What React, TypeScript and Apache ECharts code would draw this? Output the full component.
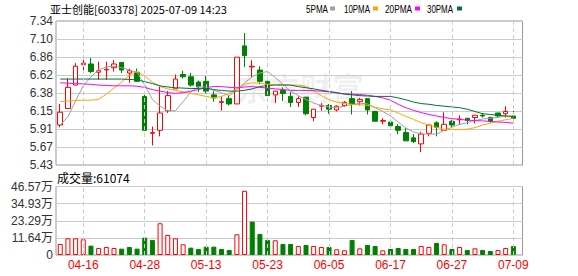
import React, { useEffect, useRef } from 'react';
import * as echarts from 'echarts';

const titleText = '亚士创能[603378] 2025-07-09 14:23';
const volumeTitle = '成交量:61074';
const legendNames = ['5PMA', '10PMA', '20PMA', '30PMA'];
const legendColors = ['#a0a0a0', '#ffa500', '#ff00ff', '#00703c'];

const dates = [
  '04-11', '04-14', '04-15', '04-16', '04-17', '04-18', '04-21', '04-22', '04-23', '04-24',
  '04-25', '04-28', '04-29', '04-30', '05-06', '05-07', '05-08', '05-09', '05-12', '05-13',
  '05-14', '05-15', '05-16', '05-19', '05-20', '05-21', '05-22', '05-23', '05-26', '05-27',
  '05-28', '05-29', '05-30', '06-03', '06-04', '06-05', '06-06', '06-09', '06-10', '06-11',
  '06-12', '06-13', '06-16', '06-17', '06-18', '06-19', '06-20', '06-23', '06-24', '06-25',
  '06-26', '06-27', '06-30', '07-01', '07-02', '07-03', '07-04', '07-07', '07-08', '07-09',
];
const labelDates = ['04-16', '04-28', '05-13', '05-23', '06-05', '06-17', '06-27', '07-09'];

const opens = [
  5.96, 6.18, 6.49, 6.76, 6.77, 6.66, 6.69, 6.72, 6.79, 6.65,
  6.66, 6.34, 5.85, 5.89, 6.15, 6.44, 6.63, 6.60, 6.53, 6.54,
  6.36, 6.26, 6.31, 6.24, 7.01, 6.73, 6.69, 6.54, 6.36, 6.42,
  6.34, 6.26, 6.33, 6.06, 6.21, 6.22, 6.16, 6.22, 6.31, 6.27,
  6.31, 6.14, 6.01, 6.00, 5.94, 5.86, 5.79, 5.71, 5.85, 5.99,
  5.89, 6.01, 6.03, 6.05, 6.06, 6.09, 6.06, 6.12, 6.11, 6.08,
];
const closes = [
  6.13, 6.46, 6.74, 6.78, 6.67, 6.68, 6.70, 6.77, 6.69, 6.68,
  6.54, 5.89, 5.86, 6.12, 6.35, 6.57, 6.60, 6.49, 6.47, 6.41,
  6.32, 6.27, 6.24, 6.86, 6.88, 6.74, 6.54, 6.35, 6.41, 6.38,
  6.26, 6.31, 6.11, 6.17, 6.22, 6.17, 6.21, 6.26, 6.24, 6.30,
  6.16, 6.01, 6.02, 5.95, 5.89, 5.75, 5.74, 5.84, 5.96, 5.93,
  5.97, 5.96, 6.04, 6.02, 6.09, 6.08, 6.01, 6.08, 6.14, 6.05,
];
const lows = [
  5.93, 6.18, 6.49, 6.67, 6.65, 6.56, 6.56, 6.67, 6.65, 6.52,
  6.53, 5.89, 5.69, 5.81, 6.12, 6.44, 6.58, 6.47, 6.40, 6.38,
  6.27, 6.15, 6.22, 6.24, 6.73, 6.59, 6.50, 6.35, 6.25, 6.28,
  6.20, 6.20, 6.09, 6.01, 6.15, 6.11, 6.14, 6.20, 6.10, 6.22,
  6.10, 6.01, 5.97, 5.91, 5.84, 5.75, 5.72, 5.60, 5.81, 5.81,
  5.89, 5.93, 5.96, 5.97, 5.98, 6.06, 5.99, 6.07, 6.06, 6.03,
];
const highs = [
  6.24, 6.58, 6.78, 6.88, 6.85, 6.80, 6.80, 6.82, 6.79, 6.71,
  6.71, 6.41, 5.94, 6.47, 6.41, 6.63, 6.68, 6.65, 6.55, 6.61,
  6.41, 6.34, 6.36, 6.86, 7.18, 6.82, 6.74, 6.56, 6.41, 6.46,
  6.40, 6.34, 6.33, 6.17, 6.25, 6.24, 6.22, 6.28, 6.41, 6.32,
  6.31, 6.15, 6.05, 6.04, 5.97, 5.92, 5.84, 5.87, 5.97, 6.01,
  6.13, 6.03, 6.09, 6.05, 6.09, 6.12, 6.07, 6.12, 6.21, 6.15,
];
const volumes = [
  75000, 113600, 113600, 106800, 63600, 47700, 54500, 47700, 43200, 54500,
  43200, 118100, 102200, 215800, 136300, 113600, 72700, 50000, 40900, 56800,
  56800, 40900, 34100, 140800, 436200, 227200, 143100, 102200, 100000, 75000,
  75000, 61300, 68200, 61300, 54500, 54500, 38600, 31800, 102200, 45400,
  68200, 61300, 31800, 40900, 47700, 40900, 40900, 61300, 54500, 81800,
  72700, 40900, 54500, 34100, 45400, 34100, 27300, 34100, 47700, 61074,
];
const ma5 = [
  5.96, 6.07, 6.28, 6.48, 6.60, 6.69, 6.73, 6.74, 6.72, 6.69,
  6.66, 6.49, 6.30, 6.21, 6.15, 6.15, 6.27, 6.40, 6.47, 6.46,
  6.42, 6.39, 6.35, 6.43, 6.52, 6.60, 6.65, 6.67, 6.59, 6.50,
  6.41, 6.35, 6.30, 6.25, 6.22, 6.20, 6.19, 6.21, 6.23, 6.25,
  6.24, 6.19, 6.14, 6.08, 6.00, 5.92, 5.87, 5.84, 5.84, 5.84,
  5.89, 5.93, 5.97, 5.99, 6.02, 6.04, 6.05, 6.06, 6.08, 6.07,
];
const ma10 = [
  6.27, 6.28, 6.285, 6.29, 6.29, 6.30, 6.37, 6.45, 6.53, 6.62,
  6.67, 6.61, 6.53, 6.47, 6.44, 6.42, 6.40, 6.38, 6.36, 6.34,
  6.32, 6.34, 6.38, 6.44, 6.50, 6.52, 6.515, 6.50, 6.50, 6.495,
  6.49, 6.49, 6.475, 6.41, 6.35, 6.295, 6.265, 6.25, 6.235, 6.23,
  6.22, 6.195, 6.175, 6.16, 6.12, 6.075, 6.035, 5.99, 5.96, 5.93,
  5.905, 5.90, 5.90, 5.905, 5.925, 5.96, 5.985, 6.01, 6.03, 6.05,
];
const ma20 = [
  6.52, 6.515, 6.51, 6.505, 6.50, 6.49, 6.485, 6.48, 6.48, 6.48,
  6.475, 6.46, 6.43, 6.41, 6.39, 6.38, 6.39, 6.41, 6.43, 6.46,
  6.47, 6.47, 6.46, 6.455, 6.465, 6.47, 6.46, 6.45, 6.44, 6.43,
  6.42, 6.42, 6.42, 6.415, 6.41, 6.40, 6.385, 6.375, 6.37, 6.365,
  6.355, 6.34, 6.32, 6.29, 6.235, 6.19, 6.155, 6.125, 6.10, 6.08,
  6.06, 6.045, 6.035, 6.025, 6.02, 6.015, 6.008, 6.00, 5.995, 5.985,
];
const ma30 = [
  6.57, 6.57, 6.57, 6.57, 6.57, 6.57, 6.57, 6.57, 6.57, 6.565,
  6.56, 6.535, 6.51, 6.48, 6.465, 6.455, 6.45, 6.445, 6.445, 6.45,
  6.43, 6.42, 6.41, 6.41, 6.42, 6.44, 6.47, 6.485, 6.49, 6.49,
  6.49, 6.47, 6.455, 6.44, 6.42, 6.405, 6.39, 6.37, 6.36, 6.35,
  6.345, 6.34, 6.34, 6.34, 6.32, 6.295, 6.265, 6.245, 6.235, 6.22,
  6.21, 6.20, 6.19, 6.17, 6.14, 6.11, 6.10, 6.09, 6.08, 6.075,
];
const priceTicks = ['5.43', '5.67', '5.91', '6.15', '6.38', '6.62', '6.86', '7.10', '7.34'];
const volumeTicks = ['0', '11.64万', '23.29万', '34.93万', '46.57万'];
const priceMin = 5.43;
const priceMax = 7.34;
const volumeMax = 465700;

const RED = '#ff0000';
const GREEN = '#008000';
const GRID_LINE = '#cccccc';
const FRAME = '#999999';

export default function App() {
  const ref = useRef<HTMLDivElement>(null);

  useEffect(() => {
    document.body.style.margin = '0';
    if (!ref.current) return;
    const chart = echarts.init(ref.current, null, { renderer: 'svg' });

    const frameLeft = 56;
    const frameWidth = 466.5;
    const dataLeft = 56.4;
    const dataWidth = 460.8;
    const priceTop = 21;
    const priceHeight = 144;
    const volTop = 186.5;
    const volHeight = 68.5;

    const candleData = dates.map((_, i) => [opens[i], closes[i], lows[i], highs[i]]);
    const volumeData = volumes.map((v, i) => {
      const up = i === 0 ? true : closes[i] >= closes[i - 1];
      return {
        value: v,
        itemStyle: up
          ? { color: '#ffffff', borderColor: RED, borderWidth: 1 }
          : { color: GREEN, borderColor: GREEN, borderWidth: 1 },
      };
    });
    const labelIdx = labelDates.map((d) => dates.indexOf(d));

    const dashed = {
      color: GRID_LINE,
      type: [4, 3] as any,
      width: 1,
    };

    const maSeries = [ma5, ma10, ma20, ma30].map((arr, k) => ({
      name: legendNames[k],
      type: 'line',
      xAxisIndex: 1,
      yAxisIndex: 1,
      data: arr,
      symbol: 'none',
      silent: true,
      z: 4,
      lineStyle: { color: legendColors[k], width: 1 },
    }));

    const legendTextStarts = [306, 344, 385, 427];
    const legendTextWidths = [22, 26, 27, 26];
    const legendSquareX = [330, 373, 415, 457];
    const legendGraphics: any[] = [];
    legendNames.forEach((name, k) => {
      // approximate natural width of Liberation Sans 11px text
      const natural = name.length === 4 ? 29.9 : 36.0;
      legendGraphics.push({
        type: 'text',
        x: legendTextStarts[k],
        y: 9,
        scaleX: legendTextWidths[k] / natural,
        style: {
          text: name,
          fill: '#000',
          fontSize: 11,
          fontFamily: 'Liberation Sans, Arial',
          align: 'left',
          verticalAlign: 'middle',
        },
      });
      legendGraphics.push({
        type: 'rect',
        shape: { x: legendSquareX[k], y: 6.5, width: 5, height: 4 },
        style: { fill: legendColors[k] },
      });
    });

    const option: any = {
      animation: false,
      backgroundColor: '#ffffff',
      grid: [
        { left: frameLeft, top: priceTop, width: frameWidth, height: priceHeight, show: true, borderColor: FRAME, borderWidth: 1, backgroundColor: 'transparent' },
        { left: dataLeft, top: priceTop, width: dataWidth, height: priceHeight },
        { left: frameLeft, top: volTop, width: frameWidth, height: volHeight, show: true, borderColor: FRAME, borderWidth: 1, backgroundColor: 'transparent' },
        { left: dataLeft, top: volTop, width: dataWidth, height: volHeight },
      ],
      xAxis: [
        { type: 'value', gridIndex: 0, show: false, min: 0, max: 1 },
        { type: 'category', gridIndex: 1, data: dates, show: false, boundaryGap: true },
        { type: 'value', gridIndex: 2, show: false, min: 0, max: 1 },
        {
          type: 'category',
          gridIndex: 3,
          data: dates,
          boundaryGap: true,
          axisLine: { show: false },
          axisTick: { show: false },
          splitLine: { show: false },
          axisLabel: {
            interval: (index: number) => labelIdx.indexOf(index) >= 0,
            color: RED,
            fontSize: 12,
            fontFamily: 'Liberation Sans, Arial',
            margin: 4,
          },
        },
      ],
      yAxis: [
        {
          type: 'value',
          gridIndex: 0,
          min: 0,
          max: priceTicks.length - 1,
          interval: 1,
          axisLine: { show: false },
          axisTick: { show: false },
          splitLine: { show: true, lineStyle: { color: GRID_LINE, width: 1 } },
          axisLabel: {
            formatter: (v: number) => priceTicks[Math.round(v)],
            color: '#333',
            fontSize: 12,
            fontFamily: 'Liberation Sans, Arial',
            margin: 3,
          },
        },
        { type: 'value', gridIndex: 1, min: priceMin, max: priceMax, show: false, splitLine: { show: false } },
        {
          type: 'value',
          gridIndex: 2,
          min: 0,
          max: volumeTicks.length - 1,
          interval: 1,
          axisLine: { show: false },
          axisTick: { show: false },
          splitLine: { show: true, lineStyle: { color: GRID_LINE, width: 1 } },
          axisLabel: {
            formatter: (v: number) => volumeTicks[Math.round(v)],
            color: '#333',
            fontSize: 12,
            fontFamily: 'Liberation Sans, Arial, Noto Sans CJK SC',
            margin: 3,
          },
        },
        { type: 'value', gridIndex: 3, min: 0, max: volumeMax, show: false, splitLine: { show: false } },
      ],
      series: [
        {
          type: 'line',
          xAxisIndex: 1,
          yAxisIndex: 1,
          data: [],
          silent: true,
          z: 1,
          markLine: {
            symbol: 'none',
            silent: true,
            label: { show: false },
            lineStyle: dashed,
            data: labelDates.map((d) => ({ xAxis: d })),
          },
        },
        {
          type: 'line',
          xAxisIndex: 3,
          yAxisIndex: 3,
          data: [],
          silent: true,
          z: 1,
          markLine: {
            symbol: 'none',
            silent: true,
            label: { show: false },
            lineStyle: dashed,
            data: labelDates.map((d) => ({ xAxis: d })),
          },
        },
        {
          type: 'candlestick',
          xAxisIndex: 1,
          yAxisIndex: 1,
          data: candleData,
          barWidth: 5,
          z: 3,
          silent: true,
          itemStyle: {
            color: '#ffffff',
            color0: GREEN,
            borderColor: RED,
            borderColor0: GREEN,
            borderWidth: 1,
          },
        },
        ...maSeries,
        {
          type: 'bar',
          xAxisIndex: 3,
          yAxisIndex: 3,
          data: volumeData,
          barWidth: 5,
          silent: true,
          z: 3,
        },
      ],
      graphic: [
        {
          type: 'text',
          x: 300,
          y: 87,
          z: 0,
          silent: true,
          style: {
            text: '东方财富',
            fill: 'rgba(0,0,0,0.06)',
            fontSize: 32,
            fontWeight: 'bold',
            fontFamily: 'Noto Sans CJK SC',
            align: 'center',
            verticalAlign: 'middle',
          },
        },
        {
          type: 'text',
          x: 50,
          y: 9,
          style: {
            text: titleText,
            fill: '#000',
            fontSize: 11,
            fontFamily: 'Noto Sans CJK SC',
            align: 'left',
            verticalAlign: 'middle',
          },
        },
        {
          type: 'text',
          x: 57,
          y: 177.5,
          style: {
            text: volumeTitle,
            fill: '#000',
            fontSize: 12,
            fontFamily: 'Noto Sans CJK SC',
            align: 'left',
            verticalAlign: 'middle',
          },
        },
        ...legendGraphics,
      ],
    };

    chart.setOption(option);
    return () => chart.dispose();
  }, []);

  return <div ref={ref} style={{ width: 578, height: 276 }} />;
}
